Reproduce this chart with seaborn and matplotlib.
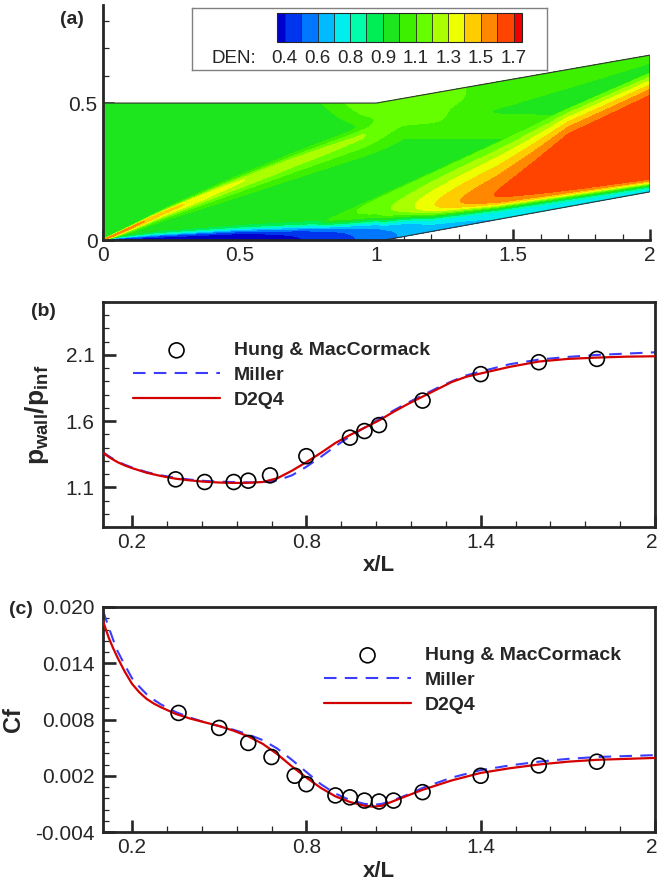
import numpy as np
import matplotlib
matplotlib.use("Agg")
import matplotlib.pyplot as plt
import matplotlib.transforms as mtransforms
import seaborn as sns
from matplotlib.ticker import MultipleLocator

# ------------------------------------------------------------------ data
# (a) domain geometry (compression ramp)
wall_x = [0.0, 1.03, 2.0]
wall_y = [0.0, 0.0, 0.176]
top_x = [0.0, 1.0, 2.0]
top_y = [0.5, 0.5, 0.675]

# (a) Tecplot contour levels / colours
den_levels = [0.4, 0.493, 0.586, 0.679, 0.771, 0.864, 0.957, 1.05,
              1.143, 1.236, 1.329, 1.421, 1.514, 1.607, 1.7]
den_bounds = [0.354] + den_levels + [1.746]
den_colors = ['#0000cc', '#0035ee', '#0077ff', '#00bbff', '#00eeee', '#00ffaa',
              '#00ee55', '#1ee61e', '#3cf000', '#66ff00', '#aaff00', '#eeff00',
              '#ffcc00', '#ff8800', '#ff4400', '#ee0000']
den_tick_labels = ['0.4', '0.6', '0.8', '0.9', '1.1', '1.3', '1.5', '1.7']

# (a) density features
rho_inf = 1.0
lead_x = [0.0, 0.1, 0.22, 0.44, 0.7, 0.95, 1.1]          # leading-edge shock trace
lead_y = [0.0, 0.045, 0.10, 0.19, 0.29, 0.38, 0.43]
lead_amp = [0.60, 0.56, 0.46, 0.35, 0.28, 0.24, 0.10]
lead_w = [0.005, 0.012, 0.02, 0.036, 0.05, 0.06, 0.07]

upper_x = [0.8, 1.0, 1.2, 1.5, 2.0]                        # post-shock upper region
upper_y = [0.42, 0.42, 0.44, 0.50, 0.64]
upper_amp = [0.16, 0.16, 0.16, 0.12, 0.08]
upper_edge_y = [0.39, 0.5]                                  # its left edge
upper_edge_x = [0.95, 0.82]

front_x = [0.75, 0.8, 1.0, 1.2, 1.45, 1.7, 2.0]            # ramp shock front
front_y = [0.04, 0.065, 0.155, 0.245, 0.36, 0.48, 0.61]
ramp_x = [0.75, 0.85, 0.97, 1.1, 1.2, 1.3, 1.44, 1.7, 2.0]  # peak density rise
ramp_amp = [0.0, 0.15, 0.25, 0.35, 0.45, 0.53, 0.615, 0.65, 0.675]
peak_x = [0.75, 1.44, 1.7, 2.0]
peak_s = [0.30, 0.33, 0.68, 0.75]

bl_x = [0.0, 0.05, 0.2, 0.5, 0.8, 0.9, 1.0, 1.1, 1.2, 1.45, 2.0]   # boundary layer
bl_dc = [0.001, 0.008, 0.02, 0.038, 0.05, 0.06, 0.072, 0.07, 0.058, 0.045, 0.028]
bl_wd = [0.0005, 0.002, 0.005, 0.007, 0.009, 0.01, 0.012, 0.011, 0.01, 0.008, 0.007]
bl_rw = [0.6, 0.36, 0.33, 0.33, 0.42, 0.48, 0.53, 0.6, 0.65, 0.68, 0.7]

# (b) wall pressure
p_hm_x = [0.35, 0.45, 0.55, 0.60, 0.675, 0.80, 0.95, 1.00, 1.05, 1.20, 1.40, 1.60, 1.80]
p_hm_y = [1.16, 1.14, 1.14, 1.15, 1.19, 1.335, 1.475, 1.525, 1.57, 1.755, 1.955, 2.045, 2.07]
p_x = [0.10, 0.125, 0.15, 0.175, 0.20, 0.25, 0.30, 0.35, 0.40, 0.45, 0.50, 0.55, 0.60,
       0.65, 0.70, 0.75, 0.80, 0.85, 0.90, 0.95, 1.00, 1.05, 1.10, 1.15, 1.20, 1.25,
       1.30, 1.35, 1.40, 1.50, 1.60, 1.70, 1.80, 1.90, 2.00]
p_d2q4 = [1.36, 1.322, 1.29, 1.265, 1.245, 1.21, 1.185, 1.165, 1.152, 1.142, 1.136, 1.133,
          1.134, 1.14, 1.168, 1.225, 1.29, 1.36, 1.435, 1.495, 1.55, 1.605, 1.67, 1.73,
          1.785, 1.84, 1.895, 1.935, 1.96, 2.01, 2.05, 2.07, 2.08, 2.087, 2.09]
p_miller = [1.365, 1.328, 1.295, 1.27, 1.25, 1.215, 1.19, 1.172, 1.158, 1.148, 1.143, 1.139,
            1.137, 1.138, 1.152, 1.19, 1.255, 1.33, 1.41, 1.485, 1.55, 1.615, 1.68, 1.74,
            1.795, 1.85, 1.9, 1.945, 1.975, 2.03, 2.065, 2.085, 2.1, 2.11, 2.12]

# (c) skin friction
cf_hm_x = [0.36, 0.50, 0.60, 0.68, 0.76, 0.80, 0.90, 0.95, 1.00, 1.05, 1.10, 1.20, 1.40, 1.60, 1.80]
cf_hm_y = [0.0087, 0.0071, 0.0055, 0.0040, 0.0020, 0.0011, -0.0001, -0.0003, -0.00065,
           -0.00075, -0.00065, 0.00025, 0.0020, 0.0031, 0.0035]
cf_x = [0.10, 0.11, 0.12, 0.135, 0.15, 0.175, 0.20, 0.225, 0.25, 0.275, 0.30, 0.35, 0.40,
        0.45, 0.50, 0.55, 0.60, 0.65, 0.70, 0.75, 0.80, 0.85, 0.90, 0.95, 1.00, 1.03, 1.06,
        1.10, 1.15, 1.20, 1.30, 1.40, 1.50, 1.60, 1.70, 1.80, 1.90, 2.00]
cf_d2q4 = [0.0185, 0.0176, 0.0167, 0.0156, 0.0146, 0.0131, 0.0118, 0.0109, 0.0102, 0.0097,
           0.0093, 0.0086, 0.0081, 0.0077, 0.0073, 0.0068, 0.0062, 0.0054, 0.0043, 0.0030,
           0.0018, 0.0007, -0.0002, -0.0008, -0.0012, -0.0013, -0.0012, -0.0007, -0.0001,
           0.0005, 0.0015, 0.0023, 0.0028, 0.0032, 0.0035, 0.0037, 0.0038, 0.0039]
cf_miller = [0.0196, 0.0187, 0.0178, 0.0165, 0.0153, 0.0138, 0.0124, 0.0115, 0.0107, 0.0101,
             0.0096, 0.0088, 0.0082, 0.0077, 0.0073, 0.0069, 0.0064, 0.0058, 0.0049, 0.0037,
             0.0024, 0.0011, 0.0001, -0.0006, -0.0010, -0.0011, -0.0010, -0.0006, 0.0000,
             0.0007, 0.0018, 0.0026, 0.0031, 0.0035, 0.0038, 0.0040, 0.0041, 0.0042]

x_major = [0.2, 0.8, 1.4, 2.0]
x_major_labels = ['0.2', '0.8', '1.4', '2']
p_major = [1.1, 1.6, 2.1]
p_major_labels = ['1.1', '1.6', '2.1']
cf_major = [-0.004, 0.002, 0.008, 0.014, 0.020]
cf_major_labels = ['-0.004', '0.002', '0.008', '0.014', '0.020']
a_xticks = [0, 0.5, 1, 1.5, 2]
a_xtick_labels = ['0', '0.5', '1', '1.5', '2']
a_yticks = [0, 0.5]
a_ytick_labels = ['0', '0.5']

labels = ['Hung & MacCormack', 'Miller', 'D2Q4']

# ------------------------------------------------------------------ style
sns.set_style("ticks")
plt.rcParams['font.family'] = ['Liberation Sans', 'DejaVu Sans']
plt.rcParams['mathtext.fontset'] = 'custom'
plt.rcParams['mathtext.rm'] = 'Liberation Sans'
plt.rcParams['mathtext.bf'] = 'Liberation Sans:bold'
plt.rcParams['mathtext.it'] = 'Liberation Sans:italic'

RED = '#d40000'
BLUE = '#3c3cff'
TICK_FS = 15
W, H = 658, 882

fig = plt.figure(figsize=(W / 100, H / 100), dpi=100)


def fax(l, t, r, b):
    return fig.add_axes([l / W, 1 - b / H, (r - l) / W, (b - t) / H])


ax_a = fax(103, 5, 650, 240)
ax_b = fax(103, 302, 655, 527)
ax_c = fax(103, 607, 655, 832)

# ------------------------------------------------------------------ (a) field
xg = np.linspace(0, 2, 801)
eg = np.linspace(0, 1, 401)
XX, EE = np.meshgrid(xg, eg)
YW = np.interp(XX, wall_x, wall_y)
YT = np.interp(XX, top_x, top_y)
YY = YW + EE * (YT - YW)
D = YY - YW

ys = np.interp(XX, lead_x, lead_y)
la = np.interp(XX, lead_x, lead_amp)
lw_ = np.interp(XX, lead_x, lead_w)
u = YY - ys
wu = np.where(u > 0, 0.45 * lw_, lw_)
lead = la * np.exp(-(u / wu) ** 2)

yE = np.interp(XX, upper_x, upper_y)
ua = np.interp(XX, upper_x, upper_amp)
xL = np.interp(YY, upper_edge_y, upper_edge_x)
upper = ua / (1 + np.exp(-(YY - yE) / 0.012)) / (1 + np.exp(-(XX - xL) / 0.03))

yF = np.interp(XX, front_x, front_y)
A = np.interp(XX, ramp_x, ramp_amp)
sp = np.interp(XX, peak_x, peak_s)
Hs = np.maximum(yF - YW, 1e-3)
s = D / Hs
uu = np.clip((s - sp) / (1 - sp), 0, 1)
ff = np.minimum(0.13 / np.maximum(A, 1e-6), 1)
fr = 1 - (1 - ff) * uu ** 1.5
ramp = np.where(s <= 1, A * fr, 0)

outer = rho_inf + np.maximum(ramp, lead + upper)

dc = np.interp(XX, bl_x, bl_dc)
wd = np.interp(XX, bl_x, bl_wd)
rw = np.interp(XX, bl_x, bl_rw)
S = 1 / (1 + np.exp(-(D - dc) / wd))
S0 = 1 / (1 + np.exp(dc / wd))
g = (S - S0) / (1 - S0)
rho = rw + (outer - rw) * g
rho = np.clip(rho, den_bounds[0] + 1e-3, den_bounds[-1] - 1e-3)

cs = ax_a.contourf(XX, YY, rho, levels=den_bounds, colors=den_colors, zorder=1)
ax_a.plot([top_x[0], top_x[1], top_x[2], wall_x[2], wall_x[1]],
          [top_y[0], top_y[1], top_y[2], wall_y[2], wall_y[1]],
          color='#333333', lw=0.8, zorder=2)
ax_a.set_xlim(0, 2)
ax_a.set_ylim(0, 0.858)
ax_a.set_xticks(a_xticks, a_xtick_labels)
ax_a.set_yticks(a_yticks, a_ytick_labels)
ax_a.xaxis.set_minor_locator(MultipleLocator(0.1))
ax_a.yaxis.set_minor_locator(MultipleLocator(0.1))
for sp_ in ['top', 'right']:
    ax_a.spines[sp_].set_visible(False)
for sp_ in ['left', 'bottom']:
    ax_a.spines[sp_].set_linewidth(2.0)
ax_a.tick_params(which='both', direction='in', top=False, right=False)
ax_a.tick_params(which='major', length=8, width=1.8, labelsize=TICK_FS, pad=4)
ax_a.tick_params(which='minor', length=4, width=0.9)

# legend box with colour bar
box = fax(191.7, 8.3, 546.7, 70)
box.set_xticks([])
box.set_yticks([])
for sp_ in box.spines.values():
    sp_.set_edgecolor('#808080')
    sp_.set_linewidth(1.0)
cax = fax(276.7, 12.7, 521.7, 41.7)
cb = fig.colorbar(cs, cax=cax, orientation='horizontal', drawedges=True,
                  spacing='proportional', ticks=den_levels[::2])
cax.set_xticklabels(den_tick_labels)
cax.tick_params(length=0, labelsize=13.5, pad=6)
cb.outline.set_linewidth(0.8)
cb.dividers.set_linewidth(0.6)
fig.text(211.7 / W, 1 - 58.5 / H, 'DEN:', fontsize=13.5, va='center', ha='left')

# ------------------------------------------------------------------ (b), (c)
def line_panel(ax, hx, hy, lx, miller, d2q4):
    sns.lineplot(x=lx, y=miller, ax=ax, color=BLUE, lw=1.5, linestyle=(0, (6, 4)),
                 label=labels[1], zorder=2)
    sns.lineplot(x=lx, y=d2q4, ax=ax, color=RED, lw=1.6, label=labels[2], zorder=3)
    sns.scatterplot(x=hx, y=hy, ax=ax, s=115, marker='o', facecolor='none',
                    edgecolor='black', linewidth=1.2, label=labels[0], zorder=4)
    ax.set_xlim(0.1, 2.0)
    ax.set_xticks(x_major, x_major_labels)
    ax.xaxis.set_minor_locator(MultipleLocator(0.12, offset=0.2))
    for sp_ in ax.spines.values():
        sp_.set_linewidth(2.0)
    ax.tick_params(which='both', direction='in', top=False, right=False)
    ax.tick_params(which='major', length=9, width=1.9, labelsize=TICK_FS)
    ax.tick_params(axis='x', which='major', pad=4)
    ax.tick_params(axis='y', which='major', pad=6)
    ax.tick_params(which='minor', length=4.5, width=0.9)
    ax.set_xlabel('x/L', fontsize=16, fontweight='bold')
    h, l = ax.get_legend_handles_labels()
    hd = dict(zip(l, h))
    return [hd[k] for k in labels]


hb = line_panel(ax_b, p_hm_x, p_hm_y, p_x, p_miller, p_d2q4)
ax_b.set_ylim(0.8, 2.5)
ax_b.set_yticks(p_major, p_major_labels)
ax_b.yaxis.set_minor_locator(MultipleLocator(0.1))
ax_b.set_ylabel(r'$\mathbf{p_{wall}/p_{inf}}$', fontsize=19)

hc = line_panel(ax_c, cf_hm_x, cf_hm_y, cf_x, cf_miller, cf_d2q4)
ax_c.set_ylim(-0.004, 0.020)
ax_c.set_yticks(cf_major, cf_major_labels)
ax_c.yaxis.set_minor_locator(MultipleLocator(0.0012, offset=0.002))
ax_c.set_ylabel('Cf', fontsize=17, fontweight='bold')

for ax, hh, x0 in [(ax_b, hb, 0.054), (ax_c, hc, 0.400)]:
    ax.legend(hh, labels, loc='upper left', bbox_to_anchor=(x0, 0.823), frameon=False,
              prop={'weight': 'bold', 'size': 14}, handlelength=4.5,
              handletextpad=0.7, labelspacing=0.36, borderpad=0, borderaxespad=0,
              scatterpoints=1)

ax_b.yaxis.set_label_coords(-0.094, 0.5)
ax_c.yaxis.set_label_coords(-0.141, 0.5)
ax_b.xaxis.set_label_coords(0.5, -0.125)
ax_c.xaxis.set_label_coords(0.5, -0.13)

# keep the last x tick label "2" inside the canvas like the reference
shift = mtransforms.ScaledTranslation(-0.03, 0, fig.dpi_scale_trans)
for ax in (ax_b, ax_c):
    lab = ax.get_xticklabels()[-1]
    lab.set_transform(lab.get_transform() + shift)

# panel tags
for tag, px, py in [('(a)', 72, 19), ('(b)', 43, 311), ('(c)', 21, 610)]:
    fig.text(px / W, 1 - py / H, tag, fontsize=14, fontweight='bold', ha='center', va='center')

fig.savefig('out.png', dpi=100)
